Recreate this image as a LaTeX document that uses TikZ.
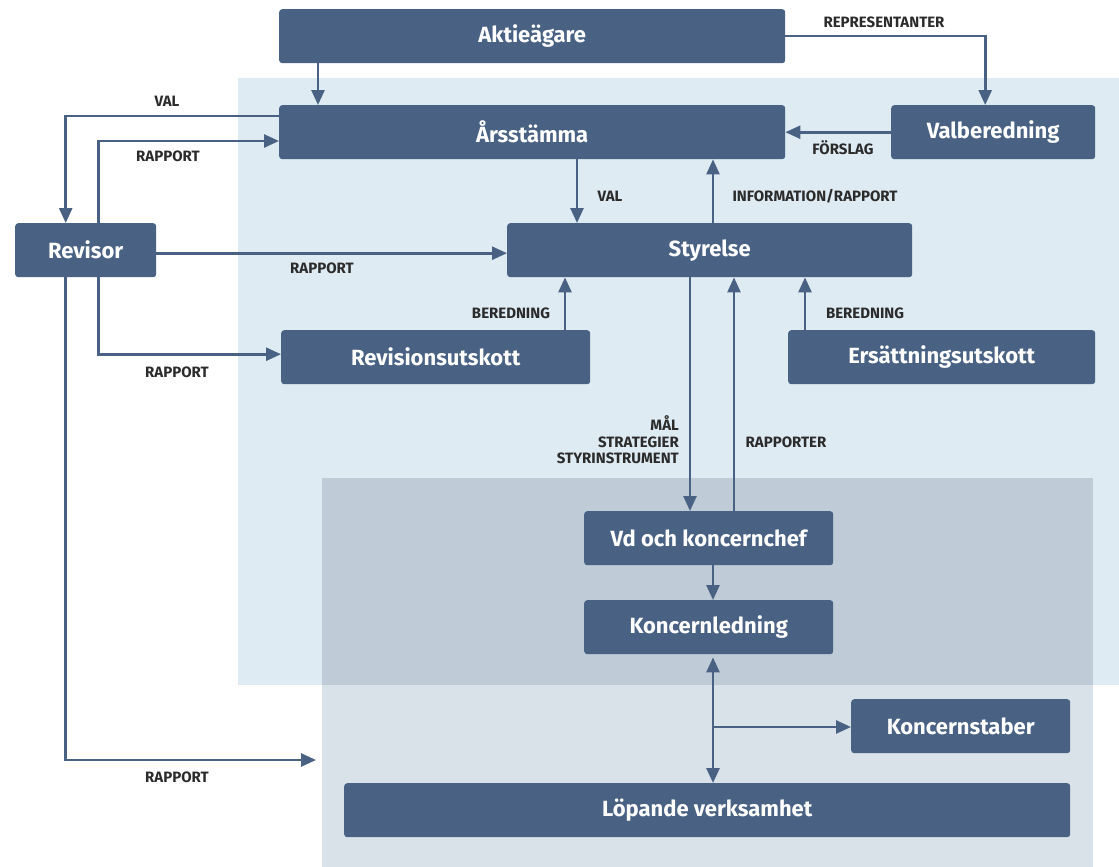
\documentclass[tikz,border=0pt]{standalone}
\usepackage{fontspec}
\setmainfont{Fira Sans}
\usepackage{xcolor}
\usetikzlibrary{arrows.meta}
\definecolor{boxblue}{HTML}{496283}
\definecolor{bgblue}{HTML}{DEEBF2}
\definecolor{bggray}{HTML}{D9E1E9}
\definecolor{bgmix}{HTML}{BFCCD7}
\definecolor{labeltext}{HTML}{2B2B2B}
\begin{document}
\begin{tikzpicture}[x=1pt,y=-1pt,
  box/.style={fill=boxblue,rounded corners=3pt,anchor=north west,inner sep=0pt,
    text=white,font=\bfseries\fontsize{22}{26}\selectfont,minimum height=54pt},
  lbl/.style={text=labeltext,font=\bfseries\fontsize{15}{16.5}\selectfont,inner sep=0pt},
  arr/.style={draw=boxblue,line width=2.6pt,-{Triangle[length=15pt,width=13pt]}},
  dbl/.style={draw=boxblue,line width=2.6pt,{Triangle[length=15pt,width=13pt]}-{Triangle[length=15pt,width=13pt]}}]
\useasboundingbox (0,0) rectangle (1119,867);
\fill[bgblue] (238,78) rectangle (1119,685);
\fill[bggray] (322,478) rectangle (1093,867);
\fill[bgmix] (322,478) rectangle (1093,685);

\node[box,minimum width=506pt] (aktie) at (279,9) {Aktieägare};
\node[box,minimum width=506pt] (arss) at (279,105) {Årsstämma};
\node[box,minimum width=204pt] (valb) at (891,105) {Valberedning};
\node[box,minimum width=141pt] (revisor) at (15,223) {Revisor};
\node[box,minimum width=405pt] (styr) at (507,223) {Styrelse};
\node[box,minimum width=309pt] (rutsk) at (281,330) {Revisionsutskott};
\node[box,minimum width=307pt] (eutsk) at (788,330) {Ersättningsutskott};
\node[box,minimum width=249pt] (vd) at (584,511) {Vd och koncernchef};
\node[box,minimum width=249pt] (kl) at (584,600) {Koncernledning};
\node[box,minimum width=219pt] (kstab) at (851,699) {Koncernstaber};
\node[box,minimum width=726pt] (lopande) at (344,783) {Löpande verksamhet};

\coordinate (lopin) at (316,760);
\coordinate (gren) at (713,727);

\draw[arr] ([xshift=39pt]aktie.south west) -- ([xshift=39pt]arss.north west);
\draw[arr] (aktie.east) -| ([xshift=-8pt]valb.north);
\draw[arr] (valb.west) -- (valb.west -| arss.east);
\draw[arr] ([yshift=-11pt]arss.north west) -| ([xshift=-20pt]revisor.north);
\draw[arr] ([xshift=13pt]revisor.north) |- ([yshift=-36pt]arss.north west);
\draw[arr] ([yshift=-3pt]revisor.east) -- ([yshift=-3pt]revisor.east -| styr.west);
\draw[arr] ([xshift=13pt]revisor.south) |- ([yshift=3pt]rutsk.west);
\draw[arr] ([xshift=-20pt]revisor.south) |- (lopin);
\draw[arr] ([xshift=298pt]arss.south west) -- ([xshift=70pt]styr.north west);
\draw[arr] ([xshift=206pt]styr.north west) -- ([xshift=434pt]arss.south west);
\draw[arr] ([xshift=284pt]rutsk.north west) -- ([xshift=58pt]styr.south west);
\draw[arr] ([xshift=17pt]eutsk.north west) -- ([xshift=298pt]styr.south west);
\draw[arr] ([xshift=183pt]styr.south west) -- ([xshift=106pt]vd.north west);
\draw[arr] ([xshift=150pt]vd.north west) -- ([xshift=227pt]styr.south west);
\draw[arr] ([xshift=129pt]vd.south west) -- ([xshift=129pt]kl.north west);
\draw[dbl] ([xshift=129pt,yshift=-3pt]kl.south west) -- ([xshift=369pt]lopande.north west);
\draw[arr] (gren) -- (gren -| kstab.west);

\node[lbl] (lrepr) at (884,22) {REPRESENTANTER};
\node[lbl] (lforsl) at (843,148) {FÖRSLAG};
\node[lbl] (lval1) at (167,101) {VAL};
\node[lbl] (lrapp1) at (168,156) {RAPPORT};
\node[lbl] (lrapp2) at (322,268) {RAPPORT};
\node[lbl] (lrapp3) at (177,372) {RAPPORT};
\node[lbl] (lrapp4) at (177,777) {RAPPORT};
\node[lbl] (lval2) at (610,196) {VAL};
\node[lbl] (linfo) at (815,196) {INFORMATION/RAPPORT};
\node[lbl] (lber1) at (511,313) {BEREDNING};
\node[lbl] (lber2) at (865,313) {BEREDNING};
\node[lbl,align=right,anchor=east] (lmal) at (679,440) {MÅL\\STRATEGIER\\STYRINSTRUMENT};
\node[lbl] (lrappr) at (786,442) {RAPPORTER};
\end{tikzpicture}
\end{document}
